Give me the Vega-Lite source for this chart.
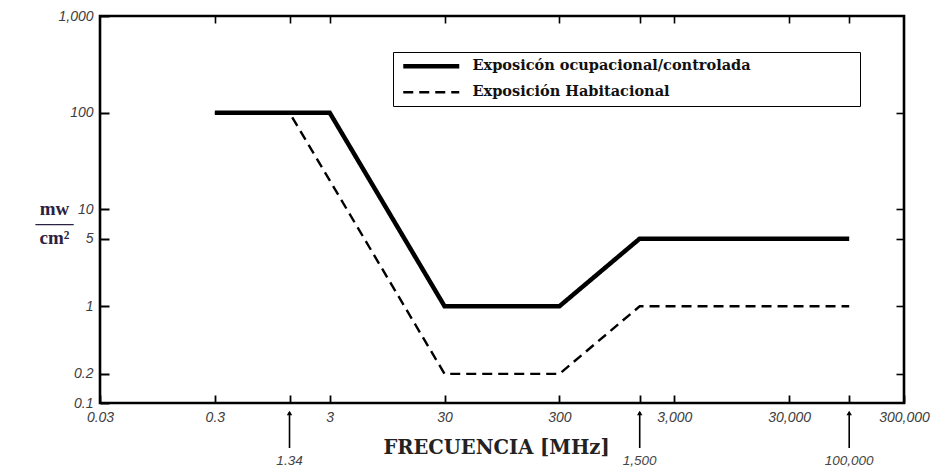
{
  "$schema": "https://vega.github.io/schema/vega-lite/v6.json",
  "width": 804,
  "height": 387,
  "autosize": "none",
  "padding": {"left": 100, "top": 16, "right": 36, "bottom": 67},
  "background": "white",
  "config": {
    "view": {"stroke": "black", "strokeWidth": 2.6},
    "axis": {"domain": false, "grid": false, "tickColor": "black"}
  },
  "datasets": {
    "limites": [
      {"exposicion": "Exposicón ocupacional/controlada", "frecuencia": 0.3, "densidad": 100},
      {"exposicion": "Exposicón ocupacional/controlada", "frecuencia": 3, "densidad": 100},
      {"exposicion": "Exposicón ocupacional/controlada", "frecuencia": 30, "densidad": 1},
      {"exposicion": "Exposicón ocupacional/controlada", "frecuencia": 300, "densidad": 1},
      {"exposicion": "Exposicón ocupacional/controlada", "frecuencia": 1500, "densidad": 5},
      {"exposicion": "Exposicón ocupacional/controlada", "frecuencia": 100000, "densidad": 5},
      {"exposicion": "Exposición Habitacional", "frecuencia": 0.3, "densidad": 100},
      {"exposicion": "Exposición Habitacional", "frecuencia": 1.34, "densidad": 100},
      {"exposicion": "Exposición Habitacional", "frecuencia": 30, "densidad": 0.2},
      {"exposicion": "Exposición Habitacional", "frecuencia": 300, "densidad": 0.2},
      {"exposicion": "Exposición Habitacional", "frecuencia": 1500, "densidad": 1},
      {"exposicion": "Exposición Habitacional", "frecuencia": 100000, "densidad": 1}
    ],
    "flechas": [
      {"frecuencia": 1.34, "etiqueta": "1.34"},
      {"frecuencia": 1500, "etiqueta": "1,500"},
      {"frecuencia": 100000, "etiqueta": "100,000"}
    ]
  },
  "layer": [
    {
      "data": {"name": "limites"},
      "mark": {"type": "line", "color": "black", "strokeCap": "butt", "strokeJoin": "miter"},
      "encoding": {
        "x": {
          "field": "frecuencia", "type": "quantitative",
          "scale": {"type": "log", "domain": [0.03, 300000]},
          "axis": {
            "orient": "bottom",
            "values": [0.03, 0.3, 1.34, 3, 30, 300, 1500, 3000, 30000, 100000, 300000],
            "format": ",",
            "labelExpr": "indexof([1.34, 1500, 100000], datum.value) >= 0 ? '' : datum.label",
            "tickSize": -8, "tickWidth": 1.8,
            "labelPadding": 15,
            "labelFont": "Liberation Sans", "labelFontStyle": "italic", "labelFontSize": 14,
            "labelColor": "#3c3c3c", "labelFlush": false, "labelOverlap": false,
            "title": "FRECUENCIA [MHz]",
            "titleFont": "DejaVu Serif", "titleFontWeight": "bold", "titleFontSize": 19.5,
            "titleColor": "#222222", "titleX": 396, "titleY": 50,
            "titleAlign": "center", "titleBaseline": "alphabetic"
          }
        },
        "y": {
          "field": "densidad", "type": "quantitative",
          "scale": {"type": "log", "domain": [0.1, 1000]},
          "axis": {
            "orient": "left",
            "values": [0.1, 0.2, 1, 5, 10, 100, 1000],
            "format": ",",
            "tickSize": -9, "tickWidth": 2,
            "labelPadding": 16,
            "labelFont": "Liberation Sans", "labelFontStyle": "italic", "labelFontSize": 14,
            "labelColor": "#3c3c3c", "labelFlush": false, "labelOverlap": false,
            "title": ["mw", "——", "cm²"],
            "titleFont": "Liberation Serif", "titleFontWeight": "bold", "titleFontSize": 19,
            "titleColor": "#2b2142", "titleAngle": 0, "titleX": -46, "titleY": 198,
            "titleAlign": "center", "titleBaseline": "alphabetic", "titleLineHeight": 14.5
          }
        },
        "strokeDash": {
          "field": "exposicion", "type": "nominal",
          "scale": {"domain": ["Exposicón ocupacional/controlada", "Exposición Habitacional"], "range": [[1, 0], [10, 6]]},
          "legend": {
            "title": null, "orient": "none", "legendX": 293, "legendY": 36, "direction": "vertical",
            "strokeColor": "black", "fillColor": "white", "padding": 7, "rowPadding": 8,
            "symbolType": "M-1,0H13", "symbolSize": 64, "symbolStrokeColor": "black",
            "labelOffset": 58, "labelFont": "DejaVu Serif", "labelFontWeight": "bold",
            "labelFontSize": 14.5, "labelColor": "#111111", "labelLimit": 1000,
            "labelExpr": "datum.label + '\u2800\u2800\u2800\u2800\u2800\u2800\u2800\u2800\u2800'"
          }
        },
        "strokeWidth": {
          "field": "exposicion", "type": "nominal",
          "scale": {"domain": ["Exposicón ocupacional/controlada", "Exposición Habitacional"], "range": [4.5, 2.4]},
          "legend": {
            "title": null, "orient": "none", "legendX": 293, "legendY": 36, "direction": "vertical",
            "strokeColor": "black", "fillColor": "white", "padding": 7, "rowPadding": 8,
            "symbolType": "M-1,0H13", "symbolSize": 64, "symbolStrokeColor": "black",
            "labelOffset": 58, "labelFont": "DejaVu Serif", "labelFontWeight": "bold",
            "labelFontSize": 14.5, "labelColor": "#111111", "labelLimit": 1000,
            "labelExpr": "datum.label + '\u2800\u2800\u2800\u2800\u2800\u2800\u2800\u2800\u2800'"
          }
        }
      }
    },
    {
      "data": {"name": "limites"},
      "mark": {"type": "point", "opacity": 0},
      "encoding": {
        "x": {
          "field": "frecuencia", "type": "quantitative",
          "scale": {"type": "log", "domain": [0.03, 300000]},
          "axis": {
            "orient": "top",
            "values": [0.3, 1.34, 3, 30, 300, 1500, 3000, 30000, 100000],
            "labels": false, "tickSize": -7, "tickWidth": 1.6, "title": null
          }
        },
        "y": {
          "field": "densidad", "type": "quantitative",
          "scale": {"type": "log", "domain": [0.1, 1000]},
          "axis": {
            "orient": "right",
            "values": [0.2, 1, 5, 10, 100],
            "labels": false, "tickSize": -8, "tickWidth": 1.6, "title": null
          }
        }
      }
    },
    {
      "data": {"name": "flechas"},
      "mark": {"type": "rule", "color": "black", "strokeWidth": 1.6},
      "encoding": {
        "x": {"field": "frecuencia", "type": "quantitative", "scale": {"type": "log", "domain": [0.03, 300000]}, "axis": null},
        "y": {"value": 396},
        "y2": {"value": 432}
      }
    },
    {
      "data": {"name": "flechas"},
      "mark": {"type": "point", "shape": "triangle-up", "filled": true, "color": "black", "size": 30, "opacity": 1},
      "encoding": {
        "x": {"field": "frecuencia", "type": "quantitative", "scale": {"type": "log", "domain": [0.03, 300000]}, "axis": null},
        "y": {"value": 397}
      }
    },
    {
      "data": {"name": "flechas"},
      "mark": {"type": "text", "font": "Liberation Sans", "fontStyle": "italic", "fontSize": 13.5, "color": "#444444", "baseline": "middle", "align": "center"},
      "encoding": {
        "x": {"field": "frecuencia", "type": "quantitative", "scale": {"type": "log", "domain": [0.03, 300000]}, "axis": null},
        "y": {"value": 445},
        "text": {"field": "etiqueta"}
      }
    }
  ],
  "resolve": {"axis": {"x": "independent", "y": "independent"}}
}
